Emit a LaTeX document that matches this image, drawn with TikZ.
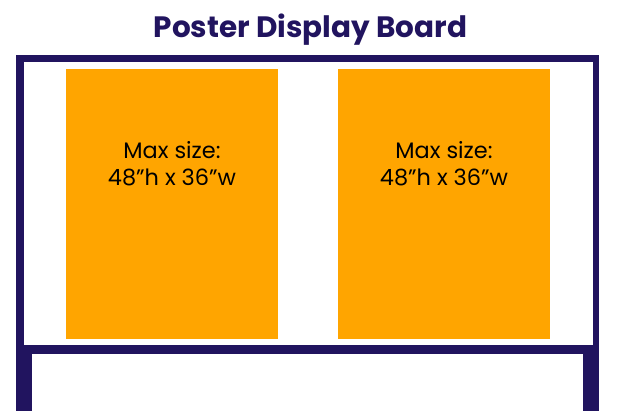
\documentclass[tikz,border=0pt]{standalone}
\usepackage{fontspec}
\setmainfont{Poppins}
\usepackage{tikz}
\definecolor{boardnavy}{HTML}{21145F}
\definecolor{posterorange}{HTML}{FFA500}
\tikzset{
  sizelabel/.style={anchor=base, font=\fontsize{16.8}{19}\selectfont, inner sep=0pt},
}

\begin{document}
\begin{tikzpicture}[x=0.75pt, y=-0.75pt]
		%%%%% START %%%%%
		\useasboundingbox[fill=white] (0, 0) rectangle (618, 411);
		
		\node[anchor=base, inner sep=0pt, text=boardnavy, font=\fontsize{22.1}{25}\bfseries] (title) at (310.5, 37) {Poster Display Board};
		
		% upper frame
		\draw[fill=boardnavy, draw=none] (16, 55) rectangle (599, 354);
		\draw[fill=white, draw=none] (24, 62) rectangle (593, 345);
		
		% legs
		\draw[fill=boardnavy, draw=none] (16, 345) rectangle (599, 411);
		\draw[fill=white, draw=none] (32, 354) rectangle (583, 411);
		
		% posters
		\draw[fill=posterorange, draw=none] (66, 69) rectangle (278, 339);
		\draw[fill=posterorange, draw=none] (338, 69) rectangle (550, 339);
		
		\node[sizelabel] (leftmax) at (172, 158) {Max size:};
		\node[sizelabel] (leftdim) at (172, 185) {48”h x 36”w};
		\node[sizelabel] (rightmax) at (444, 158) {Max size:};
		\node[sizelabel] (rightdim) at (444, 185) {48”h x 36”w};
		
		%%%%% END %%%%%
\end{tikzpicture}
\end{document}
